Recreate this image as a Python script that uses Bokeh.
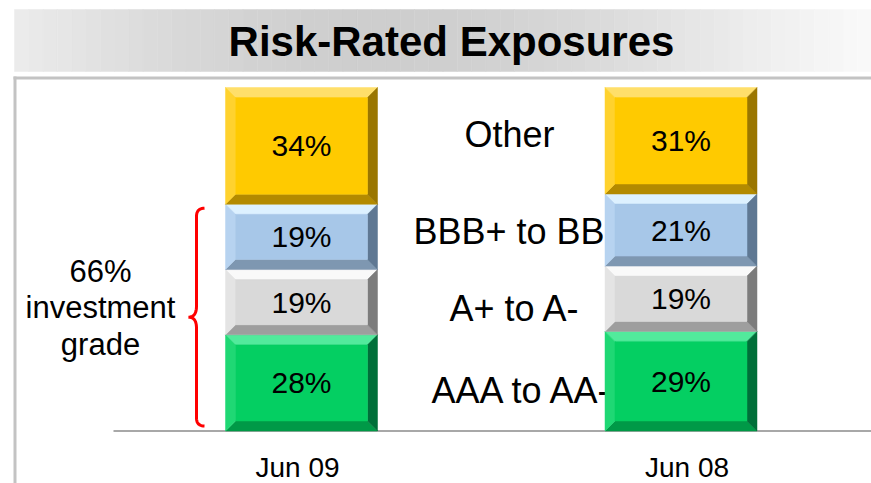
import numpy as np
from bokeh.plotting import figure
from bokeh.models import Range1d
from bokeh.core.properties import value
from bokeh.embed import file_html
from bokeh.resources import INLINE

# ---------------- data ----------------
title_text = "Risk-Rated Exposures"
periods = ["Jun 09", "Jun 08"]
ratings = ["AAA to AA-", "A+ to A-", "BBB+ to BBB-", "Other"]
aaa_to_aa = [28, 29]
a_plus_to_a_minus = [19, 19]
bbb_plus_to_bbb_minus = [19, 21]
other = [34, 31]
investment_grade_text = ["investment", "grade"]

series = [aaa_to_aa, a_plus_to_a_minus, bbb_plus_to_bbb_minus, other]

# ---------------- layout / style ----------------
W, H = 871, 483
X0, SX = 301.0, 379.5      # px of first bar centre, px per category step
Y0, SY = 430.5, 3.435      # px of 0 %, px per percentage point
FONT = "Liberation Sans"

def dx(px):  # px -> data x
    return (px - X0) / SX

def dy(py):  # px -> data y
    return (Y0 - py) / SY

def py_of(yd):  # data y -> px
    return Y0 - yd * SY

bar_w = 152 / SX
bev_x = 10 / SX
bev_y = 10 / SY

styles = {
    "Other":        dict(face="#FFCA00", top="#FFDF6A", left="#FFD22E", right="#9A7600", bottom="#B38A00"),
    "BBB+ to BBB-": dict(face="#A7C7E8", top="#DDF1FF", left="#B7D3F0", right="#5F7893", bottom="#7E97B1"),
    "A+ to A-":     dict(face="#D9D9D9", top="#F9F9F9", left="#E4E4E4", right="#7C7C7C", bottom="#9E9E9E"),
    "AAA to AA-":   dict(face="#04CF62", top="#52EA9C", left="#1FD874", right="#006F39", bottom="#009947"),
}
label_nudge_px = {"Other": -8.5, "BBB+ to BBB-": -2, "A+ to A-": 8.5, "AAA to AA-": 8}
label_x_px = {"Other": 509, "BBB+ to BBB-": 526.5, "A+ to A-": 514.5, "AAA to AA-": 522}
period_label_nudge_px = [-4, 6]

p = figure(width=W, height=H, output_backend="svg", toolbar_location=None,
           x_range=Range1d(-X0 / SX, (W - X0) / SX),
           y_range=Range1d((Y0 - H) / SY, Y0 / SY),
           min_border=0, min_border_left=0, min_border_right=0,
           min_border_top=0, min_border_bottom=0)
p.axis.visible = False
p.grid.visible = False
p.outline_line_color = None
p.background_fill_color = "white"
p.border_fill_color = "white"

# ---------------- title bar (gradient strips) ----------------
n = 60
xs_edges = np.linspace(14, 871, n + 1)
cols = []
for i in range(n):
    t = (i + 0.5) / n
    g = 236 - 30 * np.sin(np.pi * min(t / 0.85, 1.0)) + (14 * (t - 0.85) / 0.15 if t > 0.85 else 0)
    g = int(round(g))
    cols.append("#%02x%02x%02x" % (g, g, g))
p.quad(left=[dx(v) for v in xs_edges[:-1]], right=[dx(v) for v in xs_edges[1:]],
       top=dy(9), bottom=dy(71), fill_color=cols, line_color=cols, line_width=0.5)
p.text(x=[dx(451)], y=[dy(41)], text=[title_text], text_font=value(FONT),
       text_font_style="bold", text_font_size="42px", text_align="center",
       text_baseline="middle", text_color="black")

# ---------------- frame lines ----------------
p.segment(x0=[dx(13)], y0=[dy(77.5)], x1=[dx(875)], y1=[dy(77.5)], line_color="#c3c3c3", line_width=3)
p.segment(x0=[dx(14.5)], y0=[dy(76)], x1=[dx(14.5)], y1=[dy(490)], line_color="#c3c3c3", line_width=3)

# ---------------- category labels (behind bars) ----------------
for k, r in enumerate(ratings):
    bottoms = [sum(s[j] for s in series[:k]) for j in range(len(periods))]
    mids = [bottoms[j] + series[k][j] / 2 for j in range(len(periods))]
    ymid_px = py_of(np.mean(mids)) + label_nudge_px[r]
    p.text(x=[dx(label_x_px[r])], y=[dy(ymid_px)], text=[r], text_font=value(FONT),
           text_font_size="36px", text_align="center", text_baseline="middle", text_color="black")

# ---------------- baseline ----------------
p.segment(x0=[dx(113)], y0=[0], x1=[dx(875)], y1=[0], line_color="#a8a8a8", line_width=2)

# ---------------- bevelled stacked bars ----------------
for j, per in enumerate(periods):
    b = 0.0
    for k, r in enumerate(ratings):
        v = series[k][j]
        l, rr, t = j - bar_w / 2, j + bar_w / 2, b + v
        st = styles[r]
        polys = [
            ([l, rr, rr - bev_x, l + bev_x], [t, t, t - bev_y, t - bev_y], st["top"]),
            ([l, rr, rr - bev_x, l + bev_x], [b, b, b + bev_y, b + bev_y], st["bottom"]),
            ([l, l, l + bev_x, l + bev_x], [b, t, t - bev_y, b + bev_y], st["left"]),
            ([rr, rr, rr - bev_x, rr - bev_x], [b, t, t - bev_y, b + bev_y], st["right"]),
        ]
        p.patches(xs=[q[0] for q in polys], ys=[q[1] for q in polys],
                  fill_color=[q[2] for q in polys], line_color=[q[2] for q in polys], line_width=0.5)
        p.quad(left=[l + bev_x], right=[rr - bev_x], top=[t - bev_y], bottom=[b + bev_y],
               fill_color=st["face"], line_color=st["face"], line_width=0.5)
        p.text(x=[j], y=[b + v / 2], text=[f"{v}%"], text_font=value(FONT), text_font_size="30px",
               text_align="center", text_baseline="middle", text_color="black")
        b = t
    p.text(x=[j + period_label_nudge_px[j] / SX], y=[dy(467)], text=[per], text_font=value(FONT),
           text_font_size="28px", text_align="center", text_baseline="middle", text_color="black")

# ---------------- brace for investment grade ----------------
ig_total = sum(s[0] for s in series[:3])
top_px = py_of(ig_total) + 4
bot_px = py_of(0) - 5
mid_px = (top_px + bot_px) / 2

def qbez(p0, p1, p2, m=12):
    tt = np.linspace(0, 1, m)
    x = (1 - tt) ** 2 * p0[0] + 2 * (1 - tt) * tt * p1[0] + tt ** 2 * p2[0]
    y = (1 - tt) ** 2 * p0[1] + 2 * (1 - tt) * tt * p1[1] + tt ** 2 * p2[1]
    return list(x), list(y)

xv, xo, xt = 196, 204, 188
segs = [
    qbez((xo, top_px), (xv, top_px), (xv, top_px + 8)),
    ([xv, xv], [top_px + 8, mid_px - 11]),
    qbez((xv, mid_px - 11), (xv, mid_px), (xt, mid_px)),
    qbez((xt, mid_px), (xv, mid_px), (xv, mid_px + 11)),
    ([xv, xv], [mid_px + 11, bot_px - 8]),
    qbez((xv, bot_px - 8), (xv, bot_px), (xo, bot_px)),
]
bx, by = [], []
for sx, sy in segs:
    bx += list(sx)
    by += list(sy)
p.line(x=[dx(v) for v in bx], y=[dy(v) for v in by], line_color="#FF0000", line_width=3)

ig_lines = [f"{ig_total}%"] + investment_grade_text
for i, txt in enumerate(ig_lines):
    p.text(x=[dx(100)], y=[dy(mid_px - 46 + 36.5 * i)], text=[txt], text_font=value(FONT),
           text_font_size="31px", text_align="center", text_baseline="middle", text_color="black")

open("out.html", "w").write(file_html(p, INLINE))
